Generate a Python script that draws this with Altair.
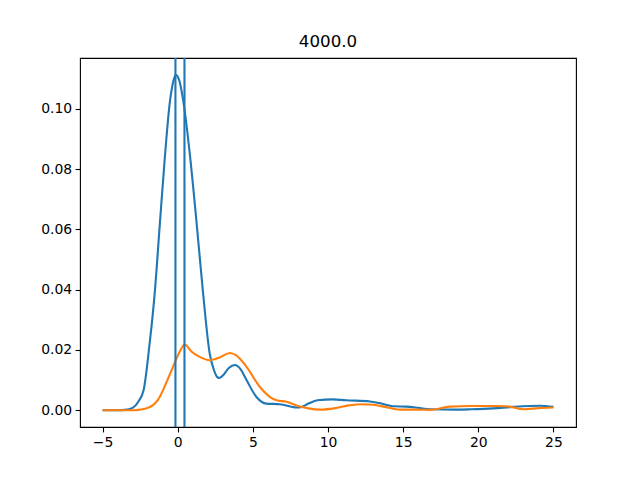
import altair as alt
import pandas as pd

title_text = "4000.0"

blue_x = [-5, -4, -3.5, -3.0, -2.6, -2.27, -1.87, -1.53, -1.2, -0.87, -0.53, -0.3, -0.13,
          0.1, 0.36, 0.8, 1.24, 1.69, 2.13, 2.4, 2.6, 2.76, 3.0, 3.4, 3.8, 4.2, 4.58,
          5.24, 5.9, 6.8, 7.9, 8.2, 8.7, 9.3, 10.3, 11.2, 12.8, 13.4, 14.4, 15.2, 16.0,
          16.8, 18.5, 19.5, 21.0, 22.3, 24.1, 25]
blue_y = [0.0, 0.0, 0.0001, 0.0008, 0.0030, 0.0066, 0.022, 0.0388, 0.061, 0.083, 0.1019,
          0.109, 0.1113, 0.1095, 0.103, 0.0853, 0.0631, 0.0388, 0.0188, 0.0135, 0.0112,
          0.0107, 0.0115, 0.0140, 0.0150, 0.0135, 0.010, 0.0044, 0.0022, 0.0020, 0.0009,
          0.0010, 0.0022, 0.0033, 0.0036, 0.0033, 0.0029, 0.0024, 0.0013, 0.0012, 0.0008,
          0.0003, 0.0002, 0.0003, 0.0006, 0.0011, 0.0015, 0.0011]

orange_x = [-5, -3, -2.5, -2.1, -1.64, -1.3, -0.98, -0.6, -0.31, 0.13, 0.47, 0.91, 1.47,
            2.13, 2.8, 3.47, 3.9, 4.58, 5.47, 6.2, 6.58, 7.24, 8.0, 8.7, 9.5, 10.5,
            11.4, 12.2, 13.0, 13.8, 14.8, 15.8, 16.8, 18.1, 19.5, 21.0, 21.9, 23.0,
            24.0, 25]
orange_y = [0.0, 0.0, 0.0002, 0.0006, 0.0017, 0.0035, 0.0066, 0.011, 0.0144, 0.0194,
            0.0218, 0.0195, 0.0177, 0.0166, 0.0175, 0.019, 0.0182, 0.0144, 0.0077,
            0.0042, 0.0033, 0.0028, 0.0014, 0.0006, 0.0002, 0.0007, 0.0016, 0.002,
            0.0018, 0.0011, 0.0002, 0.0002, 0.0001, 0.0012, 0.0014, 0.0014, 0.0013,
            0.0003, 0.0007, 0.0009]

vlines_x = [-0.15, 0.45]

x_ticks = [-5, 0, 5, 10, 15, 20, 25]
y_ticks = [0.0, 0.02, 0.04, 0.06, 0.08, 0.10]

blue_df = pd.DataFrame({"x": blue_x, "y": blue_y})
orange_df = pd.DataFrame({"x": orange_x, "y": orange_y})
vl_df = pd.DataFrame({"x": vlines_x})

xscale = alt.Scale(domain=[-6.5, 26.5], nice=False, zero=False)
yscale = alt.Scale(domain=[-0.00557, 0.1169], nice=False, zero=False)

axis_common = dict(
    labelFont="DejaVu Sans", labelFontSize=13.9, labelColor="black",
    tickColor="black", tickSize=4.9, tickWidth=1.1, labelPadding=3.5,
    domain=False, grid=False, title=None,
)

xenc = alt.X("x:Q", scale=xscale, axis=alt.Axis(values=x_ticks, format="d", **axis_common))
yenc = alt.Y("y:Q", scale=yscale, axis=alt.Axis(values=y_ticks, format=".2f", **axis_common))

blue = alt.Chart(blue_df).mark_line(color="#1f77b4", strokeWidth=2.1, interpolate="monotone").encode(
    x=xenc, y=yenc)
orange = alt.Chart(orange_df).mark_line(color="#ff7f0e", strokeWidth=2.1, interpolate="monotone").encode(
    x=alt.X("x:Q", scale=xscale), y=alt.Y("y:Q", scale=yscale))
rules = alt.Chart(vl_df).mark_rule(color="#1f77b4", strokeWidth=2.1).encode(
    x=alt.X("x:Q", scale=xscale))

chart = alt.layer(blue, orange, rules).properties(
    width=496, height=369,
    title=alt.TitleParams(title_text, font="DejaVu Sans", fontSize=16.7, fontWeight="normal",
                          color="black", offset=6),
    autosize=alt.AutoSizeParams(type="none"),
    padding={"left": 72, "top": 50, "right": 56, "bottom": 45},
    background="white",
).configure_view(stroke="black", strokeWidth=1.1)

chart.save("out.html", embed_options={"renderer": "svg", "actions": False})
